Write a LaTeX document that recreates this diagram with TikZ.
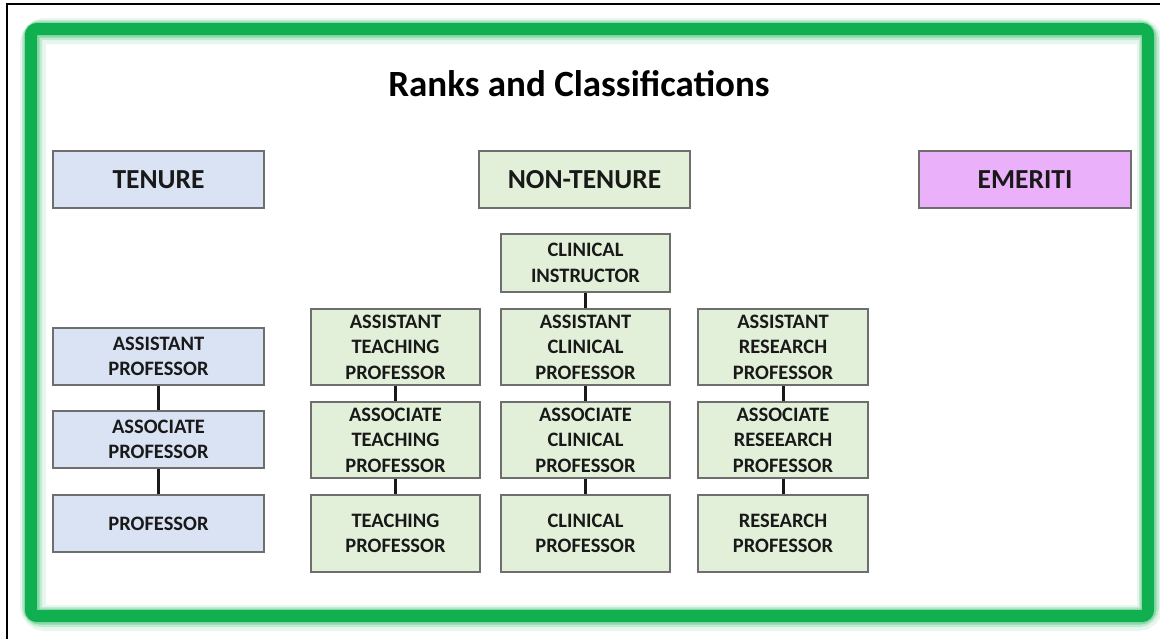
\documentclass[tikz,border=0pt]{standalone}
\usepackage{fontspec}
\setmainfont{Carlito}
\definecolor{tenfill}{HTML}{DAE3F3}
\definecolor{ntfill}{HTML}{E2F0D9}
\definecolor{emfill}{HTML}{EAB0F9}
\definecolor{bordergray}{HTML}{6E6E6E}
\definecolor{framegreen}{HTML}{10B050}
\begin{document}
\begin{tikzpicture}[x=1pt,y=-1pt]
\tikzset{
  rk/.style={draw=bordergray, line width=1.4pt, align=center, inner sep=0pt,
    font=\bfseries\fontsize{20.5}{25.5}\selectfont, text=black!90},
  hdr/.style={rk, font=\bfseries\fontsize{27.5}{30}\selectfont, minimum width=211pt, minimum height=57pt},
  ten/.style={rk, fill=tenfill, minimum width=211pt, minimum height=57pt},
  ntbox/.style={rk, fill=ntfill, minimum width=169pt, minimum height=76pt},
  link/.style={line width=3pt, black!90}
}
\useasboundingbox (0,0) rectangle (1160,638);
% outer black border (partly cropped)
\draw[line width=1.3pt] (7,640) -- (7,4) -- (1170,4);
% green frame with soft glow
\draw[framegreen, opacity=0.10, line width=26pt, rounded corners=12] (33,31) rectangle (1150,618);
\draw[framegreen, opacity=0.18, line width=20pt, rounded corners=10] (32,30) rectangle (1149,617);
\draw[framegreen, opacity=0.30, line width=16pt, rounded corners=8] (31.5,29.5) rectangle (1148.5,616.5);
\draw[framegreen, line width=12pt, rounded corners=6] (31,29) rectangle (1148,616);
% title
\node[font=\bfseries\fontsize{37}{42}\selectfont, text=black] (title) at (579,84) {Ranks and Classifications};
% headers
\node[hdr, fill=tenfill] (tenure) at (158.5,179.5) {TENURE};
\node[hdr, fill=ntfill] (nontenure) at (584.5,179.5) {NON-TENURE};
\node[hdr, fill=emfill, minimum width=212pt] (emeriti) at (1025,179.5) {EMERITI};
% tenure column
\node[ten] (ap) at (158.5,356.5) {ASSISTANT\\PROFESSOR};
\node[ten] (asp) at (158.5,439.5) {ASSOCIATE\\PROFESSOR};
\node[ten] (p) at (158.5,523.5) {PROFESSOR};
% teaching column
\node[ntbox] (at) at (395.5,347) {ASSISTANT\\TEACHING\\PROFESSOR};
\node[ntbox] (ast) at (395.5,440) {ASSOCIATE\\TEACHING\\PROFESSOR};
\node[ntbox, minimum height=77pt] (tp) at (395.5,533.5) {TEACHING\\PROFESSOR};
% clinical column
\node[ntbox, minimum height=58pt] (ci) at (585.5,263) {CLINICAL\\INSTRUCTOR};
\node[ntbox] (ac) at (585.5,347) {ASSISTANT\\CLINICAL\\PROFESSOR};
\node[ntbox] (asc) at (585.5,440) {ASSOCIATE\\CLINICAL\\PROFESSOR};
\node[ntbox, minimum height=77pt] (cp) at (585.5,533.5) {CLINICAL\\PROFESSOR};
% research column
\node[ntbox, minimum width=170pt] (ar) at (783,347) {ASSISTANT\\RESEARCH\\PROFESSOR};
\node[ntbox, minimum width=170pt] (asr) at (783,440) {ASSOCIATE\\RESEEARCH\\PROFESSOR};
\node[ntbox, minimum width=170pt, minimum height=77pt] (rp) at (783,533.5) {RESEARCH\\PROFESSOR};
% connectors
\draw[link] (ap) -- (asp);
\draw[link] (asp) -- (p);
\draw[link] (at) -- (ast);
\draw[link] (ast) -- (tp);
\draw[link] (ci) -- (ac);
\draw[link] (ac) -- (asc);
\draw[link] (asc) -- (cp);
\draw[link] (ar) -- (asr);
\draw[link] (asr) -- (rp);
\end{tikzpicture}
\end{document}
